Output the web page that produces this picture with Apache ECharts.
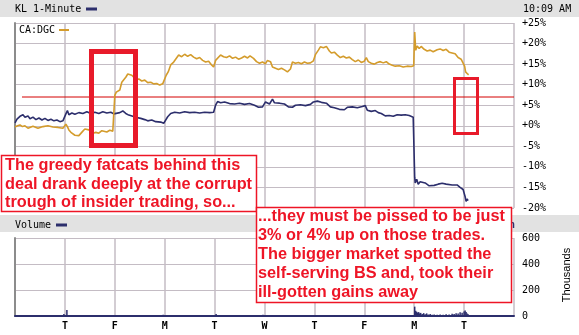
<!DOCTYPE html>
<html>
<head>
<meta charset="utf-8">
<script src="https://cdn.jsdelivr.net/npm/echarts@6/dist/echarts.min.js"></script>
<style>
html,body{margin:0;padding:0;background:#fff;}
#c{width:579px;height:335px;}
</style>
</head>
<body>
<div id="c"></div>
<script>
// x values are trading days since the start of the window (0..10)
const dayLabels = ['', 'T', 'F', 'M', 'T', 'W', 'T', 'F', 'M', 'T', ''];
const pctTicks = [-20, -15, -10, -5, 0, 5, 10, 15, 20, 25];
const volTicks = [0, 200, 400, 600];

// KL (navy) % change
const klPct = [
 [0.00,0.7],[0.04,1.6],[0.10,2.3],[0.16,2.7],[0.20,2.1],[0.26,2.4],[0.30,1.7],[0.36,2.1],[0.42,1.5],[0.48,1.9],
 [0.54,1.4],[0.60,1.8],[0.66,1.3],[0.72,1.6],[0.78,1.2],[0.84,1.4],[0.90,1.0],[0.96,1.2],[0.99,0.9],[1.02,2.9],
 [1.05,3.7],[1.08,2.7],[1.14,3.1],[1.20,2.8],[1.28,3.2],[1.36,3.0],[1.44,3.4],[1.52,3.0],[1.60,3.3],[1.68,3.0],
 [1.76,3.4],[1.84,3.1],[1.92,3.3],[1.98,2.9],[2.02,2.7],[2.10,3.2],[2.16,3.6],[2.22,3.0],[2.28,2.6],[2.36,2.3],
 [2.44,2.0],[2.52,1.8],[2.60,1.5],[2.66,1.2],[2.74,1.4],[2.82,1.0],[2.92,0.9],[2.98,0.6],[3.02,1.0],[3.06,2.2],
 [3.12,3.0],[3.20,3.3],[3.30,3.1],[3.40,3.4],[3.50,3.2],[3.60,3.3],[3.70,3.1],[3.80,3.3],[3.90,3.2],[3.98,3.3],
 [4.02,5.0],[4.06,5.9],[4.12,5.6],[4.20,5.8],[4.30,5.4],[4.40,5.3],[4.50,5.5],[4.60,5.2],[4.70,5.4],[4.80,5.0],
 [4.88,4.5],[4.96,4.6],[5.02,5.8],[5.10,5.3],[5.16,6.5],[5.20,5.6],[5.30,5.5],[5.40,5.3],[5.48,4.6],[5.56,4.5],
 [5.62,5.0],[5.72,5.1],[5.82,4.9],[5.92,5.2],[5.98,5.8],[6.06,6.0],[6.14,5.7],[6.24,5.5],[6.32,4.6],[6.40,4.4],
 [6.50,4.0],[6.60,3.9],[6.66,4.5],[6.76,4.6],[6.86,4.4],[6.96,4.7],[7.02,4.9],[7.06,3.8],[7.14,3.5],[7.22,3.7],
 [7.28,3.2],[7.34,3.0],[7.42,2.4],[7.50,2.5],[7.58,2.3],[7.66,2.7],[7.74,2.6],[7.82,2.7],[7.90,2.5],[7.98,2.1],
 [8.00,2.0],[8.01,-12.5],[8.02,-13.9],[8.05,-13.0],[8.08,-14.2],[8.12,-13.6],[8.16,-14.0],[8.22,-13.9],[8.30,-14.6],[8.40,-14.5],
 [8.48,-14.2],[8.56,-14.0],[8.64,-14.2],[8.76,-14.4],[8.86,-14.4],[8.92,-15.0],[8.98,-15.5],[9.00,-15.8],[9.02,-17.2],[9.04,-18.4],
 [9.06,-17.8],[9.08,-18.2]
];

// CA:DGC (gold) % change
const dgcPct = [
 [0.00,-0.3],[0.05,0.0],[0.10,0.2],[0.15,-0.2],[0.20,0.0],[0.26,-0.6],[0.30,-0.4],[0.36,-0.1],[0.40,-0.3],[0.46,-0.6],
 [0.50,-0.4],[0.56,-0.2],[0.60,-0.3],[0.66,0.0],[0.70,0.1],[0.76,-0.3],[0.80,-0.2],[0.86,-0.4],[0.90,-0.3],[0.96,-0.6],
 [1.00,-0.4],[1.02,0.4],[1.05,-0.2],[1.08,-1.0],[1.12,-1.6],[1.16,-2.0],[1.20,-2.3],[1.24,-2.7],[1.28,-2.4],[1.32,-2.0],
 [1.36,-1.3],[1.40,-0.8],[1.44,-0.5],[1.48,-1.0],[1.52,-1.4],[1.56,-1.8],[1.62,-1.6],[1.68,-1.8],[1.74,-1.2],[1.78,-1.0],
 [1.84,-1.5],[1.90,-1.1],[1.96,-1.3],[1.99,-1.0],[2.00,7.4],[2.03,8.2],[2.07,7.9],[2.10,8.7],[2.14,10.6],[2.18,11.2],
 [2.22,11.8],[2.26,12.6],[2.30,12.9],[2.34,12.3],[2.38,11.8],[2.42,11.1],[2.48,11.4],[2.54,10.9],[2.60,11.1],[2.66,10.5],
 [2.72,10.6],[2.78,10.2],[2.84,10.3],[2.90,9.9],[2.96,10.2],[3.00,10.4],[3.03,12.3],[3.07,13.1],[3.12,14.8],[3.18,15.5],
 [3.22,15.8],[3.28,17.2],[3.34,16.8],[3.40,17.4],[3.46,16.9],[3.52,17.3],[3.58,16.7],[3.64,16.3],[3.70,16.6],[3.76,15.9],
 [3.82,15.5],[3.88,15.7],[3.94,14.8],[3.98,14.3],[4.02,15.9],[4.06,16.2],[4.12,17.2],[4.18,16.8],[4.24,16.6],[4.30,17.0],
 [4.36,16.4],[4.42,16.7],[4.48,16.2],[4.54,16.5],[4.60,16.9],[4.66,16.5],[4.71,17.0],[4.78,16.4],[4.84,15.6],[4.90,15.2],
 [4.96,15.5],[5.02,15.1],[5.06,15.9],[5.12,15.6],[5.16,14.3],[5.22,14.0],[5.28,13.7],[5.34,14.0],[5.40,13.6],[5.46,13.1],
 [5.52,13.8],[5.56,15.5],[5.62,15.2],[5.68,15.4],[5.74,15.1],[5.80,15.5],[5.86,15.2],[5.92,15.3],[5.98,15.8],[6.02,17.3],
 [6.08,18.4],[6.12,19.2],[6.18,19.0],[6.24,19.3],[6.30,18.2],[6.34,17.7],[6.40,17.9],[6.46,17.2],[6.52,16.6],[6.58,16.9],
 [6.64,16.5],[6.70,16.7],[6.76,16.1],[6.82,15.6],[6.88,16.0],[6.94,15.4],[7.00,15.7],[7.04,16.6],[7.08,15.6],[7.14,15.2],
 [7.20,15.0],[7.26,15.4],[7.32,15.6],[7.38,15.3],[7.44,15.6],[7.50,15.0],[7.56,14.7],[7.62,14.5],[7.70,14.6],[7.78,14.3],
 [7.86,14.5],[7.94,14.4],[7.99,14.6],[8.01,22.8],[8.03,18.4],[8.06,19.4],[8.10,18.8],[8.14,19.3],[8.20,18.6],[8.26,18.2],
 [8.32,18.4],[8.38,18.0],[8.46,18.5],[8.52,18.7],[8.58,18.3],[8.64,18.6],[8.70,17.9],[8.76,17.7],[8.82,17.5],[8.88,16.6],
 [8.94,16.2],[8.98,16.4],[9.01,14.5],[9.03,13.1],[9.05,13.0],[9.07,12.6],[9.09,12.4]
];

// KL volume, thousands
const klVolume = [
 [0.98,15],[1.04,47],[2.97,10],[4.03,15],[4.09,8],[4.97,10],[5.15,8],[6.41,5],
 [8.01,72],[8.03,40],[8.05,32],[8.07,26],[8.09,30],[8.11,20],[8.13,24],[8.16,16],[8.19,22],[8.22,14],
 [8.25,20],[8.28,12],[8.32,15],[8.36,10],[8.40,12],[8.46,10],[8.52,12],[8.58,9],[8.64,14],[8.70,12],
 [8.76,18],[8.80,15],[8.84,22],[8.88,20],[8.92,28],[8.96,25],[9.00,35],[9.02,42],[9.04,30],[9.06,20],[9.08,14]
];

// reference level line (% and day span)
const refLevel = 7;
const refSpan = [0.14, 10];

const NAVY = '#2c2e6c', GOLD = '#d49c2c', RED = '#ee1526', GRID = '#c4bcc4';
const MONO = '"DejaVu Sans Mono", monospace';

const chart = echarts.init(document.getElementById('c'), null, {renderer: 'canvas'});
chart.setOption({
  animation: false,
  backgroundColor: '#ffffff',
  grid: [
    {left: 15, right: 65, top: 23, height: 185},
    {left: 15, right: 65, top: 238, height: 78}
  ],
  xAxis: [
    {type: 'value', gridIndex: 0, min: 0, max: 10, interval: 1,
     axisLabel: {show: false}, axisTick: {show: false}, axisLine: {show: false},
     splitLine: {show: true, lineStyle: {color: GRID, width: 1.5}}},
    {type: 'value', gridIndex: 1, min: 0, max: 10, interval: 1,
     axisLabel: {show: true, formatter: v => dayLabels[v] || '', fontFamily: MONO, fontWeight: 'bold', fontSize: 10, color: '#000', margin: 5},
     axisTick: {show: false},
     axisLine: {show: true, onZero: false, lineStyle: {color: NAVY, width: 2}},
     splitLine: {show: true, lineStyle: {color: GRID, width: 1.5}}}
  ],
  yAxis: [
    {type: 'value', gridIndex: 0, position: 'right', min: pctTicks[0], max: pctTicks[pctTicks.length-1], interval: 5,
     axisLabel: {formatter: v => (v >= 0 ? '+' : '') + v + '%', fontFamily: MONO, fontSize: 10, color: '#000', margin: 8},
     axisTick: {show: false},
     axisLine: {show: true, lineStyle: {color: '#8c8c8c', width: 2}},
     splitLine: {show: true, lineStyle: {color: GRID, width: 1}}},
    {type: 'value', gridIndex: 1, position: 'right', min: volTicks[0], max: volTicks[volTicks.length-1], interval: 200,
     axisLabel: {fontFamily: MONO, fontSize: 10, color: '#000', margin: 8},
     axisTick: {show: false},
     axisLine: {show: true, lineStyle: {color: '#8c8c8c', width: 2}},
     splitLine: {show: true, lineStyle: {color: GRID, width: 1}}}
  ],
  series: [
    {name: 'ref', type: 'line', xAxisIndex: 0, yAxisIndex: 0, silent: true,
     data: [[refSpan[0], refLevel], [refSpan[1], refLevel]], showSymbol: false,
     lineStyle: {color: '#d40000', width: 1}, z: 2},
    {name: 'KL', type: 'line', xAxisIndex: 0, yAxisIndex: 0, data: klPct, showSymbol: false,
     lineStyle: {color: NAVY, width: 1.6}, z: 3},
    {name: 'CA:DGC', type: 'line', xAxisIndex: 0, yAxisIndex: 0, data: dgcPct, showSymbol: false,
     lineStyle: {color: GOLD, width: 1.6}, z: 3},
    {name: 'Volume', type: 'bar', xAxisIndex: 1, yAxisIndex: 1, data: klVolume, barWidth: 1.5,
     itemStyle: {color: NAVY}}
  ],
  graphic: [
    {type: 'rect', shape: {x: 0, y: 0, width: 579, height: 17}, style: {fill: '#e2e2e2'}, z: 1},
    {type: 'text', x: 15, y: 9, style: {text: 'KL 1-Minute', font: '10px ' + MONO, fill: '#000', textVerticalAlign: 'middle'}, z: 2},
    {type: 'line', shape: {x1: 86, y1: 9, x2: 97, y2: 9}, style: {stroke: NAVY, lineWidth: 3}, z: 2},
    {type: 'text', x: 523, y: 9, style: {text: '10:09 AM', font: '10px ' + MONO, fill: '#000', textVerticalAlign: 'middle'}, z: 2},
    {type: 'text', x: 19, y: 30, style: {text: 'CA:DGC', font: '10px ' + MONO, fill: '#000', textVerticalAlign: 'middle'}, z: 2},
    {type: 'line', shape: {x1: 59, y1: 30, x2: 69, y2: 30}, style: {stroke: GOLD, lineWidth: 2}, z: 2},
    {type: 'rect', shape: {x: 0, y: 215, width: 579, height: 17}, style: {fill: '#e2e2e2'}, z: 1},
    {type: 'text', x: 15, y: 225, style: {text: 'Volume', font: '10px ' + MONO, fill: '#000', textVerticalAlign: 'middle'}, z: 2},
    {type: 'line', shape: {x1: 56, y1: 225, x2: 67, y2: 225}, style: {stroke: NAVY, lineWidth: 3}, z: 2},
    {type: 'text', x: 567, y: 275, rotation: Math.PI / 2,
     style: {text: 'Thousands', font: '11px "Liberation Sans", Arial, sans-serif', fill: '#000', textAlign: 'center', textVerticalAlign: 'middle'}, z: 2},
    // highlight boxes
    {type: 'rect', shape: {x: 91.5, y: 51.5, width: 44, height: 94}, style: {fill: 'none', stroke: '#e81a2a', lineWidth: 5}, z: 10},
    {type: 'rect', shape: {x: 454.5, y: 78.5, width: 23, height: 55}, style: {fill: 'none', stroke: '#e81a2a', lineWidth: 3}, z: 10},
    // comment boxes
    {type: 'rect', shape: {x: 1.5, y: 155.5, width: 255, height: 56}, style: {fill: '#fff', stroke: RED, lineWidth: 1.5}, z: 11},
    {type: 'text', x: 5, y: 156, style: {text: 'The greedy fatcats behind this\ndeal drank deeply at the corrupt\ntrough of insider trading, so...',
      font: 'bold 16.3px "Liberation Sans", Arial, sans-serif', fill: RED, lineHeight: 18.7, textVerticalAlign: 'top'}, z: 12},
    {type: 'text', x: 509, y: 225, style: {text: 'n', font: 'bold 10px ' + MONO, fill: NAVY, textVerticalAlign: 'middle'}, z: 10},
    {type: 'rect', shape: {x: 256.5, y: 207.5, width: 255, height: 95}, style: {fill: '#fff', stroke: RED, lineWidth: 1.5}, z: 11},
    {type: 'text', x: 258, y: 207.5, style: {text: '...they must be pissed to be just\n3% or 4% up on those trades.\nThe bigger market spotted the\nself-serving BS and, took their\nill-gotten gains away',
      font: 'bold 16.3px "Liberation Sans", Arial, sans-serif', fill: RED, lineHeight: 19, textVerticalAlign: 'top'}, z: 12}
  ]
});
</script>
</body>
</html>
